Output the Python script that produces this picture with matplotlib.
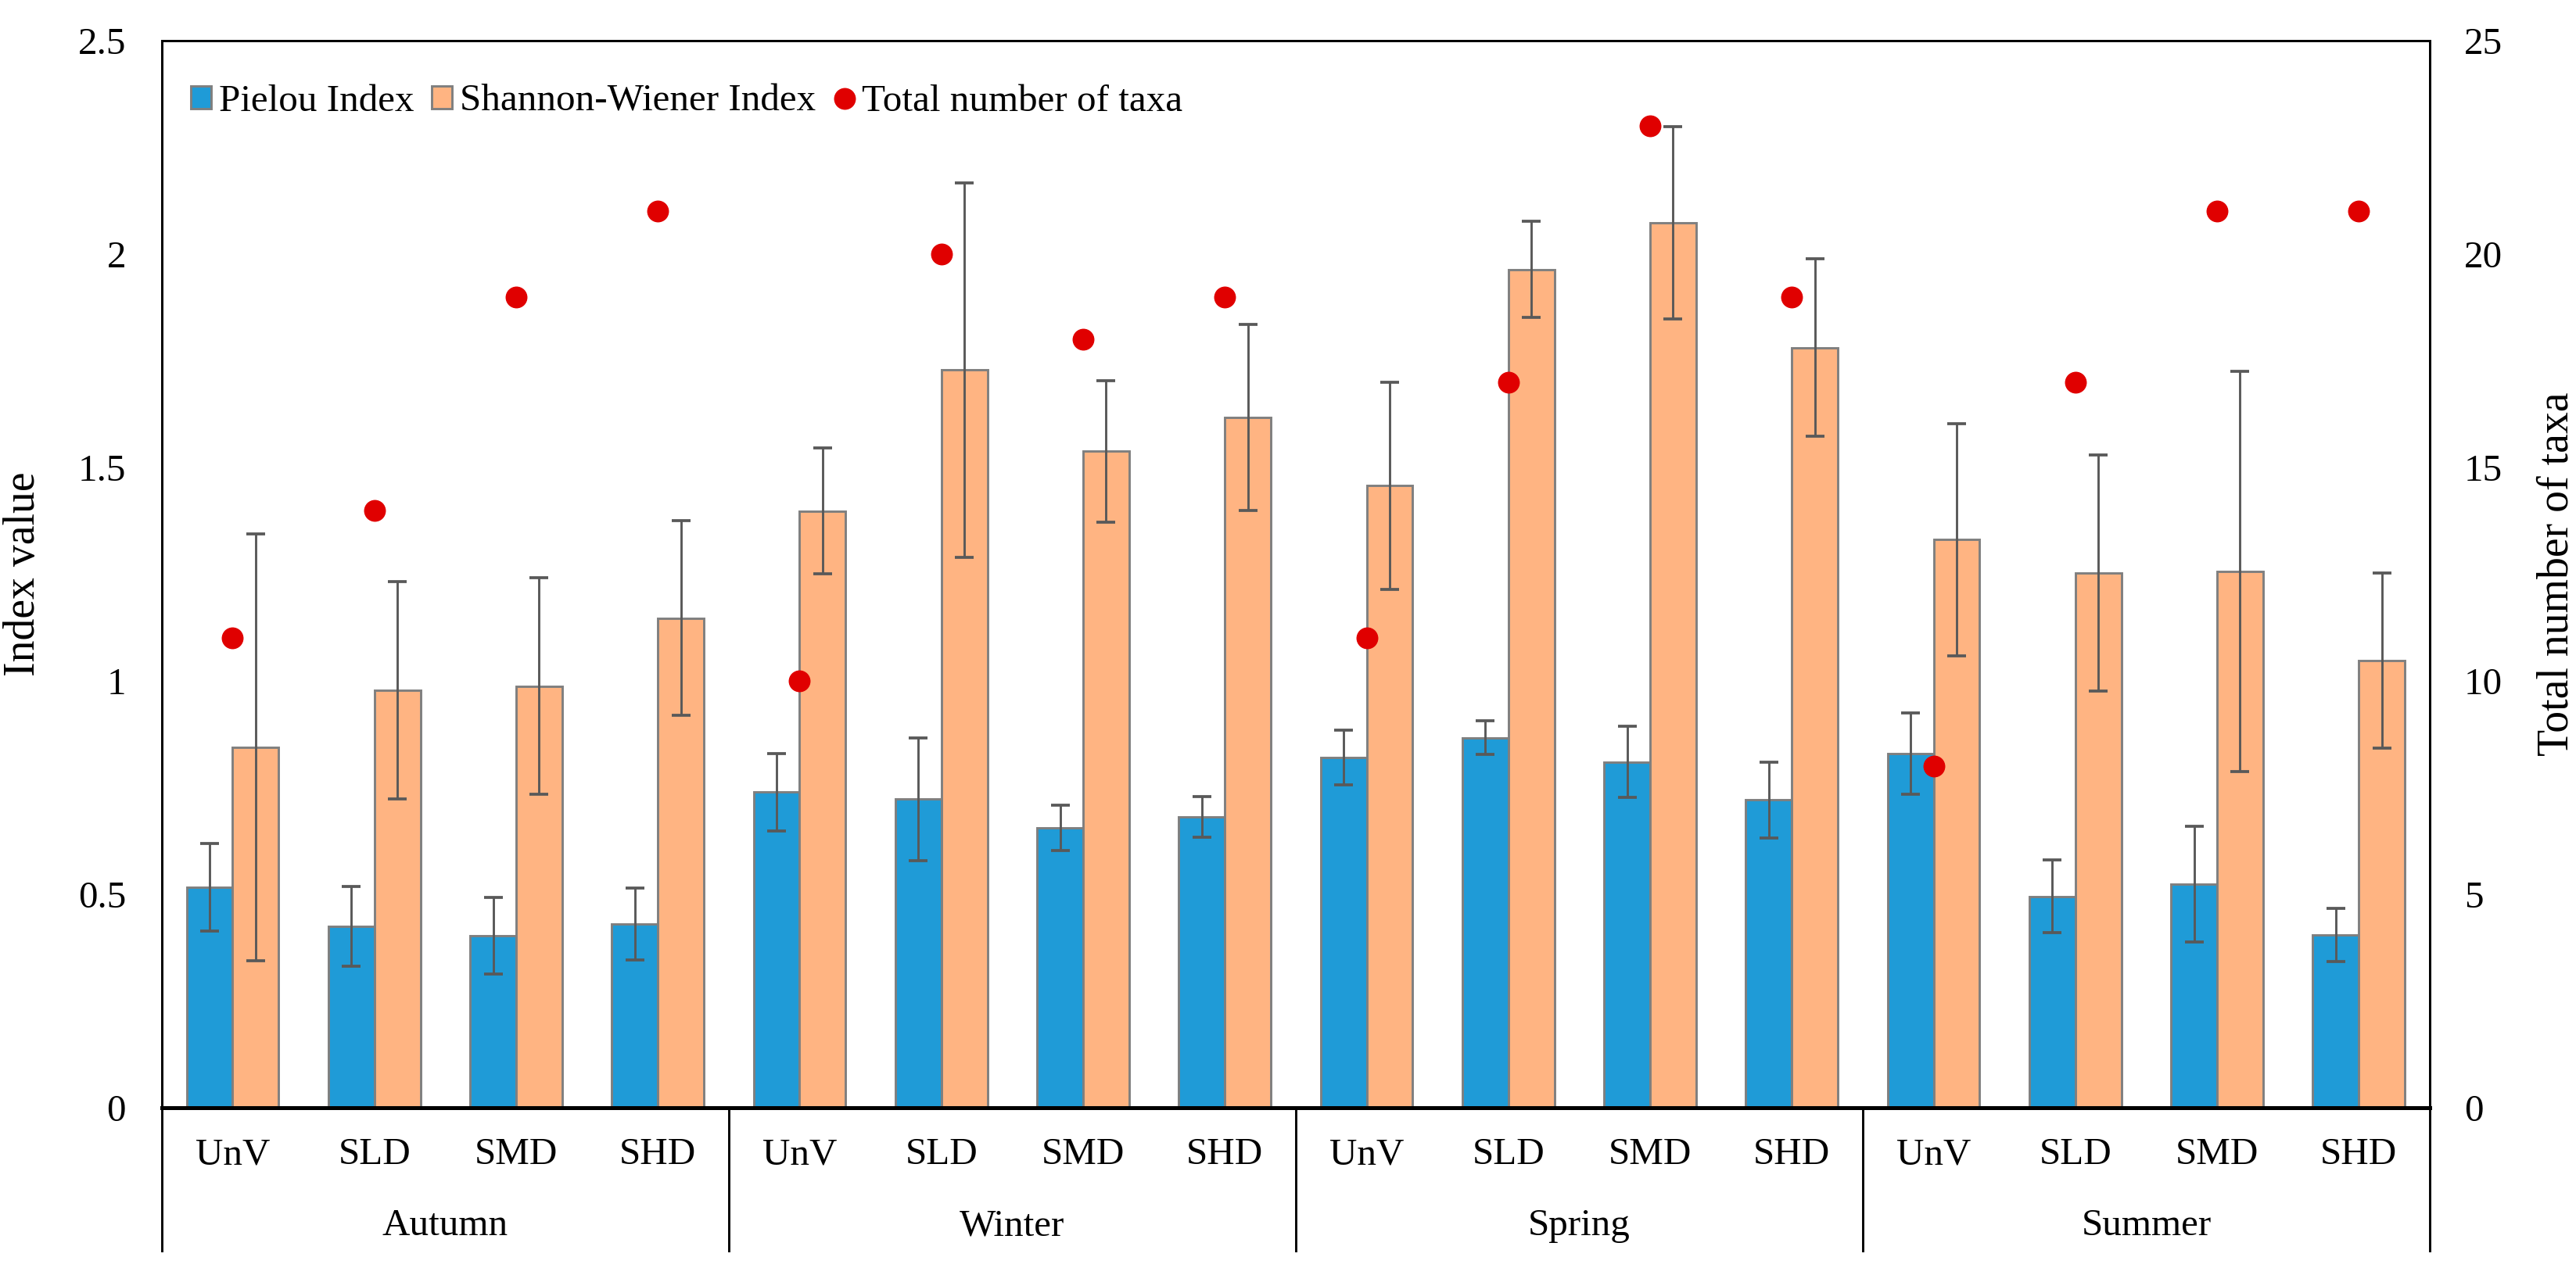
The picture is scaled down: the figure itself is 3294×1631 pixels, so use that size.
import numpy as np
import matplotlib.pyplot as plt
from matplotlib.ticker import FuncFormatter

# Data
seasons = ["Autumn", "Winter", "Spring", "Summer"]
sites = ["UnV", "SLD", "SMD", "SHD"]

pielou = [0.516, 0.425, 0.403, 0.43,
          0.739, 0.723, 0.655, 0.681,
          0.82, 0.867, 0.81, 0.721,
          0.83, 0.495, 0.524, 0.405]
pielou_err = [0.103, 0.094, 0.09, 0.084,
              0.09, 0.144, 0.053, 0.047,
              0.064, 0.039, 0.083, 0.089,
              0.095, 0.085, 0.135, 0.062]
shannon = [0.844, 0.978, 0.988, 1.147,
           1.398, 1.728, 1.538, 1.617,
           1.457, 1.964, 2.073, 1.781,
           1.331, 1.253, 1.256, 1.048]
shannon_err = [0.50, 0.255, 0.253, 0.228,
               0.147, 0.438, 0.166, 0.218,
               0.242, 0.112, 0.225, 0.208,
               0.272, 0.277, 0.469, 0.205]
taxa = [11, 14, 19, 21,
        10, 20, 18, 19,
        11, 17, 23, 19,
        8, 17, 21, 21]

plt.rcParams['font.family'] = ['Liberation Serif', 'DejaVu Serif']
plt.rcParams['font.size'] = 11.8

fig = plt.figure(figsize=(10.98, 5.437), dpi=300)
ax = fig.add_axes([0.0628, 0.1312, 0.8804, 0.8369])
ax2 = ax.twinx()

x = np.arange(len(pielou))
w = 0.325
ax.bar(x - w/2, pielou, w, color="#1F9BD7", edgecolor="#7F7F7F", linewidth=0.7,
       label="Pielou Index", zorder=2)
ax.bar(x + w/2, shannon, w, color="#FFB482", edgecolor="#7F7F7F", linewidth=0.7,
       label="Shannon-Wiener Index", zorder=2)
ax.errorbar(x - w/2, pielou, yerr=pielou_err, fmt="none", ecolor="#595959",
            elinewidth=0.7, capsize=2.9, capthick=0.9, zorder=3)
ax.errorbar(x + w/2, shannon, yerr=shannon_err, fmt="none", ecolor="#595959",
            elinewidth=0.7, capsize=2.9, capthick=0.9, zorder=3)
ax2.plot(x, taxa, "o", color="#E00000", markersize=6.7, markeredgewidth=0,
         label="Total number of taxa")

ax.set_xlim(-0.5, len(x) - 0.5)
ax.set_ylim(0, 2.5)
ax2.set_ylim(0, 25)
ax.set_yticks(np.arange(0, 2.51, 0.5))
ax2.set_yticks(np.arange(0, 26, 5))
ax.yaxis.set_major_formatter(FuncFormatter(lambda v, p: f"{v:g}"))
ax.tick_params(axis="y", length=0, pad=11)
ax2.tick_params(axis="y", length=0, pad=10.6)
ax.set_ylabel("Index value", fontsize=13.4)
ax2.set_ylabel("Total number of taxa", fontsize=13.4)
ax.yaxis.set_label_coords(-0.052, 0.5)
ax2.yaxis.set_label_coords(1.047, 0.5)

# two-level category axis
ax.set_xticks(x)
ax.set_xticklabels([])
ax.tick_params(axis="x", length=0)
tr = ax.get_xaxis_transform()
for i, xi in enumerate(x):
    ax.text(xi, -0.044, sites[i % 4], transform=tr, ha="center", va="center")
for j, s in enumerate(seasons):
    ax.text(4*j + 1.5, -0.1106, s, transform=tr, ha="center", va="center")
for b in np.arange(-0.5, len(x), 4):
    ax.plot([b, b], [0, -0.134], transform=tr, color="black", lw=0.7, clip_on=False)

for a in (ax, ax2):
    for sp in a.spines.values():
        sp.set_linewidth(0.7)
        sp.set_color("black")
ax2.spines["bottom"].set_linewidth(1.2)

h1, l1 = ax.get_legend_handles_labels()
h2, l2 = ax2.get_legend_handles_labels()
ax2.legend(h1 + h2, l1 + l2, loc="center left", bbox_to_anchor=(0.006, 0.943), ncol=3,
           frameon=False, handlelength=0.53, handleheight=0.55, handletextpad=0.2,
           columnspacing=0.47, borderaxespad=0.0)

fig.savefig("out.png", dpi=300)
